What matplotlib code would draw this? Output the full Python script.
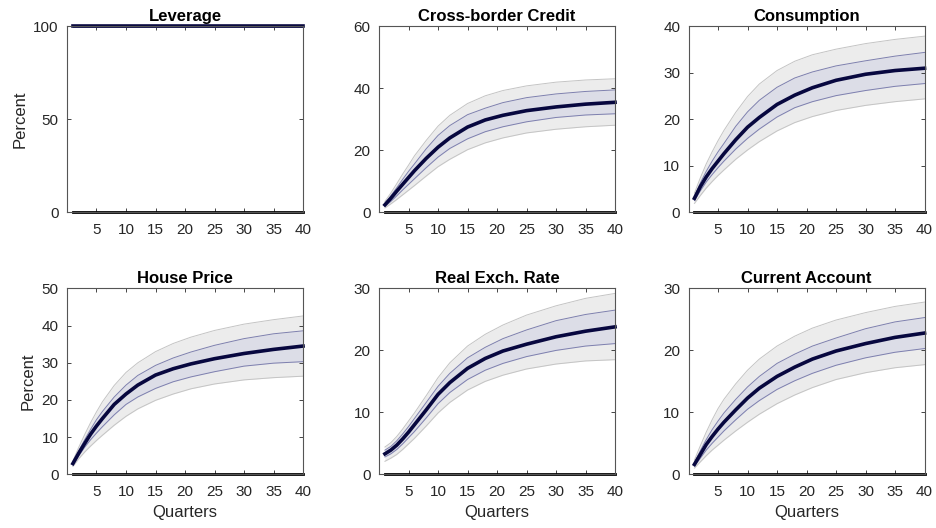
import numpy as np
import matplotlib
matplotlib.use("Agg")
import matplotlib.pyplot as plt

plt.rcParams['font.family'] = ['Liberation Sans', 'DejaVu Sans']

quarters = [1, 2, 3, 4, 5, 6, 8, 10, 12, 15, 18, 21, 25, 30, 35, 40]

titles = ['Leverage', 'Cross-border Credit', 'Consumption',
          'House Price', 'Real Exch. Rate', 'Current Account']

# median responses
lev_med = [100, 100, 100, 100, 100, 100, 100, 100, 100, 100, 100, 100, 100, 100, 100, 100]
cbc_med = [2.4, 4.5, 6.8, 9.0, 11.2, 13.4, 17.4, 21.0, 24.0, 27.5, 29.8, 31.3, 32.8, 34.0, 34.9, 35.5]
con_med = [3.0, 5.5, 7.6, 9.4, 11.0, 12.6, 15.6, 18.3, 20.4, 23.2, 25.2, 26.8, 28.4, 29.7, 30.5, 31.0]
hp_med = [2.9, 5.7, 8.3, 10.8, 13.0, 15.0, 18.8, 21.6, 24.0, 26.7, 28.4, 29.7, 31.1, 32.5, 33.6, 34.5]
rer_med = [3.3, 3.9, 4.7, 5.7, 6.8, 8.0, 10.4, 12.9, 14.8, 17.1, 18.7, 19.9, 21.0, 22.2, 23.1, 23.8]
ca_med = [1.6, 3.2, 4.8, 6.1, 7.3, 8.4, 10.4, 12.3, 13.9, 15.8, 17.3, 18.6, 19.9, 21.1, 22.1, 22.8]

# inner band (upper / lower)
lev_in_hi = [100.1, 100.1, 100.1, 100.1, 100.1, 100.1, 100.1, 100.1, 100.1, 100.1, 100.1, 100.1, 100.1, 100.1, 100.1, 100.1]
lev_in_lo = [99.9, 99.9, 99.9, 99.9, 99.9, 99.9, 99.9, 99.9, 99.9, 99.9, 99.9, 99.9, 99.9, 99.9, 99.9, 99.9]
cbc_in_hi = [2.9, 5.3, 7.9, 10.6, 13.2, 15.6, 20.5, 24.8, 28.0, 31.5, 33.6, 35.4, 37.0, 38.2, 39.0, 39.5]
cbc_in_lo = [1.9, 3.5, 5.3, 7.2, 9.0, 10.8, 14.4, 17.8, 20.6, 23.7, 26.0, 27.6, 29.2, 30.6, 31.4, 31.8]
con_in_hi = [3.4, 6.3, 8.8, 11.0, 13.0, 14.8, 18.5, 21.6, 24.1, 26.9, 28.9, 30.2, 31.5, 32.6, 33.6, 34.4]
con_in_lo = [2.5, 4.6, 6.5, 8.1, 9.6, 11.0, 13.6, 15.9, 17.9, 20.5, 22.5, 23.8, 25.1, 26.2, 27.1, 27.7]
hp_in_hi = [3.2, 6.4, 9.3, 12.1, 14.7, 16.9, 20.8, 24.0, 26.6, 29.3, 31.3, 32.9, 34.7, 36.5, 37.8, 38.6]
hp_in_lo = [2.5, 5.0, 7.3, 9.3, 11.1, 12.8, 16.0, 18.8, 20.8, 23.1, 24.9, 26.2, 27.6, 29.1, 29.9, 30.3]
rer_in_hi = [3.9, 4.5, 5.4, 6.5, 7.7, 9.0, 11.6, 14.2, 16.3, 18.8, 20.5, 21.9, 23.3, 24.8, 25.8, 26.5]
rer_in_lo = [2.8, 3.3, 4.0, 4.9, 5.9, 6.9, 9.1, 11.4, 13.2, 15.3, 16.8, 17.9, 19.0, 20.0, 20.7, 21.1]
ca_in_hi = [1.9, 3.8, 5.6, 7.2, 8.6, 9.9, 12.1, 14.1, 15.8, 17.9, 19.4, 20.7, 22.0, 23.5, 24.6, 25.3]
ca_in_lo = [1.3, 2.6, 3.9, 5.0, 6.0, 7.0, 8.8, 10.5, 11.9, 13.7, 15.1, 16.3, 17.6, 18.8, 19.7, 20.3]

# outer band (upper / lower)
lev_out_hi = [100.3, 100.3, 100.3, 100.3, 100.3, 100.3, 100.3, 100.3, 100.3, 100.3, 100.3, 100.3, 100.3, 100.3, 100.3, 100.3]
lev_out_lo = [99.7, 99.7, 99.7, 99.7, 99.7, 99.7, 99.7, 99.7, 99.7, 99.7, 99.7, 99.7, 99.7, 99.7, 99.7, 99.7]
cbc_out_hi = [3.5, 6.2, 9.2, 12.3, 15.2, 18.2, 23.2, 27.8, 31.3, 35.1, 37.6, 39.3, 40.8, 42.0, 42.7, 43.1]
cbc_out_lo = [1.4, 2.7, 4.1, 5.6, 7.1, 8.6, 11.7, 14.7, 17.1, 20.2, 22.4, 24.0, 25.6, 26.8, 27.6, 28.1]
con_out_hi = [4.1, 7.4, 10.4, 13.0, 15.4, 17.6, 21.5, 24.9, 27.6, 30.5, 32.5, 33.9, 35.1, 36.3, 37.2, 37.9]
con_out_lo = [1.9, 3.6, 5.2, 6.6, 7.9, 9.1, 11.4, 13.4, 15.2, 17.5, 19.3, 20.6, 21.9, 23.0, 23.8, 24.4]
hp_out_hi = [3.6, 7.3, 10.7, 13.9, 16.8, 19.5, 23.9, 27.4, 30.0, 33.0, 35.2, 36.9, 38.7, 40.4, 41.6, 42.6]
hp_out_lo = [2.1, 4.2, 6.0, 7.6, 9.1, 10.5, 13.2, 15.6, 17.6, 19.9, 21.6, 23.0, 24.3, 25.4, 26.0, 26.4]
rer_out_hi = [4.4, 5.1, 6.1, 7.3, 8.6, 9.9, 12.7, 15.6, 18.0, 20.7, 22.6, 24.1, 25.7, 27.2, 28.4, 29.2]
rer_out_lo = [2.1, 2.6, 3.2, 4.0, 4.9, 5.8, 7.8, 9.9, 11.6, 13.6, 15.0, 16.0, 17.0, 17.8, 18.3, 18.5]
ca_out_hi = [2.3, 4.6, 6.8, 8.8, 10.6, 12.1, 14.6, 16.8, 18.6, 20.7, 22.3, 23.6, 24.9, 26.1, 27.1, 27.8]
ca_out_lo = [1.0, 2.0, 3.0, 3.9, 4.7, 5.5, 7.0, 8.4, 9.7, 11.4, 12.8, 14.0, 15.3, 16.4, 17.2, 17.7]

zero_line = [0] * len(quarters)

medians = [lev_med, cbc_med, con_med, hp_med, rer_med, ca_med]
in_hi = [lev_in_hi, cbc_in_hi, con_in_hi, hp_in_hi, rer_in_hi, ca_in_hi]
in_lo = [lev_in_lo, cbc_in_lo, con_in_lo, hp_in_lo, rer_in_lo, ca_in_lo]
out_hi = [lev_out_hi, cbc_out_hi, con_out_hi, hp_out_hi, rer_out_hi, ca_out_hi]
out_lo = [lev_out_lo, cbc_out_lo, con_out_lo, hp_out_lo, rer_out_lo, ca_out_lo]
ylims = [100, 60, 40, 50, 30, 30]
ysteps = [50, 20, 10, 10, 10, 10]

fig = plt.figure(figsize=(9.37, 5.28), dpi=100)

lefts = [0.0715, 0.4045, 0.7348]
bottoms = [0.598, 0.1017]
w, h = 0.2519, 0.352

for i in range(6):
    r, c = divmod(i, 3)
    ax = fig.add_axes([lefts[c], bottoms[r], w, h])
    ax.fill_between(quarters, out_lo[i], out_hi[i], color='#ececec', lw=0)
    ax.fill_between(quarters, in_lo[i], in_hi[i], color='#dcdde7', lw=0)
    ax.plot(quarters, out_hi[i], color='#c4c4c4', lw=0.7)
    ax.plot(quarters, out_lo[i], color='#c4c4c4', lw=0.7)
    ax.plot(quarters, in_hi[i], color='#7d7fae', lw=0.7)
    ax.plot(quarters, in_lo[i], color='#7d7fae', lw=0.7)
    ax.plot(quarters, zero_line, color='black', lw=2.0, clip_on=False)
    ax.plot(quarters, medians[i], color='#07073f', lw=2.6, clip_on=False)

    ax.set_xlim(0, 40)
    ax.set_ylim(0, ylims[i])
    ax.set_xticks(np.arange(5, 41, 5))
    ax.set_yticks(np.arange(0, ylims[i] + 1, ysteps[i]))
    ax.tick_params(direction='in', top=True, right=True, length=3,
                   width=0.6, labelsize=11, colors='#262626')
    ax.tick_params(axis='x', pad=8)
    ax.tick_params(axis='y', pad=6)
    for s in ax.spines.values():
        s.set_color('#555555')
        s.set_linewidth(0.8)
    ax.set_title(titles[i], fontsize=12, fontweight='bold', pad=4)
    if c == 0:
        ax.set_ylabel('Percent', fontsize=12, color='#262626')
    if r == 1:
        ax.set_xlabel('Quarters', fontsize=12, color='#262626', labelpad=4)

fig.savefig('out.png', dpi=100)
